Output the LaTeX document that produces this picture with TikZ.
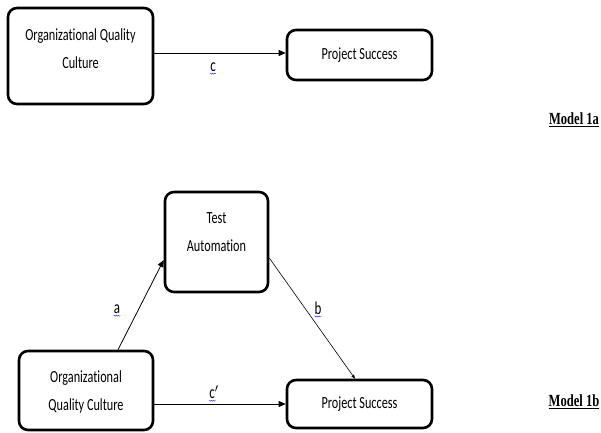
\documentclass[tikz,border=0pt]{standalone}
\usepackage{fontspec}
\setmainfont{Carlito}
\newfontfamily\boxfont[FakeStretch=0.72,Ligatures=NoCommon]{Carlito}
\newfontfamily\modelfont[FakeStretch=0.74]{Liberation Serif}
\usetikzlibrary{arrows.meta,decorations.pathmorphing}
\begin{document}
\begin{tikzpicture}[x=1pt,y=-1pt,
  box/.style={draw, line width=2.6pt, rounded corners=9pt, inner sep=0pt},
  boxtext/.style={align=center, inner sep=0pt, font=\boxfont\fontsize{17}{28}\selectfont},
  conn/.style={line width=0.8pt, -{Triangle[length=7pt,width=6pt]}},
  thinconn/.style={line width=0.6pt, -{Triangle[length=4pt,width=3pt]}},
  lbl/.style={font=\boxfont\fontsize{18}{20}\selectfont, inner sep=0pt},
  wavy/.style={draw=blue!80, line width=0.4pt, decorate, decoration={snake, amplitude=0.6pt, segment length=2pt}},
  model/.style={font=\modelfont\bfseries\fontsize{17}{18}\selectfont, inner sep=0pt}]
\useasboundingbox (0,0) rectangle (601,432);
% Model 1a
\node[box, minimum width=145pt, minimum height=96pt] (oqc1) at (80.5,56) {};
\node[boxtext] (oqc1t) at ([yshift=7pt]oqc1.center) {Organizational Quality\\Culture};
\node[box, minimum width=145pt, minimum height=50pt] (ps1) at (359.5,55) {};
\node[boxtext] (ps1t) at (ps1.center) {Project Success};
\draw[conn] ([yshift=3pt]oqc1.east) -- ([yshift=3pt]oqc1.east -| ps1.west);
\node[lbl] (lc) at (213,67) {c};
\draw[wavy] ([yshift=-2pt]lc.south west) -- ([yshift=-2pt]lc.south east);
\node[model] (m1a) at (574,120) {\underline{Model 1a}};
% Model 1b
\node[box, minimum width=103pt, minimum height=100pt] (ta) at (216.5,242) {};
\node[boxtext] (tat) at ([yshift=10pt]ta.center) {Test\\Automation};
\node[box, minimum width=134pt, minimum height=79pt] (oqc2) at (86,390.5) {};
\node[boxtext] (oqc2t) at ([yshift=-1pt]oqc2.center) {Organizational\\Quality Culture};
\node[box, minimum width=145pt, minimum height=48pt] (ps2) at (359.5,404) {};
\node[boxtext] (ps2t) at (ps2.center) {Project Success};
\draw[conn] ([xshift=32pt]oqc2.north) -- ([yshift=-18pt]ta.west);
\draw[thinconn] ([yshift=-16pt]ta.east) -- ([xshift=-4.5pt]ps2.north);
\draw[conn] (oqc2.east |- ps2.west) -- (ps2.west);
\node[lbl] (la) at (117,309) {a};
\draw[wavy] ([yshift=-2pt]la.south west) -- ([yshift=-2pt]la.south east);
\node[lbl] (lb) at (318,308) {b};
\draw[wavy] ([yshift=-2pt]lb.south west) -- ([yshift=-2pt]lb.south east);
\node[lbl] (lc2) at (214,392) {c$'$};
\draw[wavy] ([yshift=-2pt]lc2.south west) -- ([yshift=-2pt,xshift=-3pt]lc2.south east);
\node[model] (m1b) at (574,402) {\underline{Model 1b}};
\end{tikzpicture}
\end{document}
